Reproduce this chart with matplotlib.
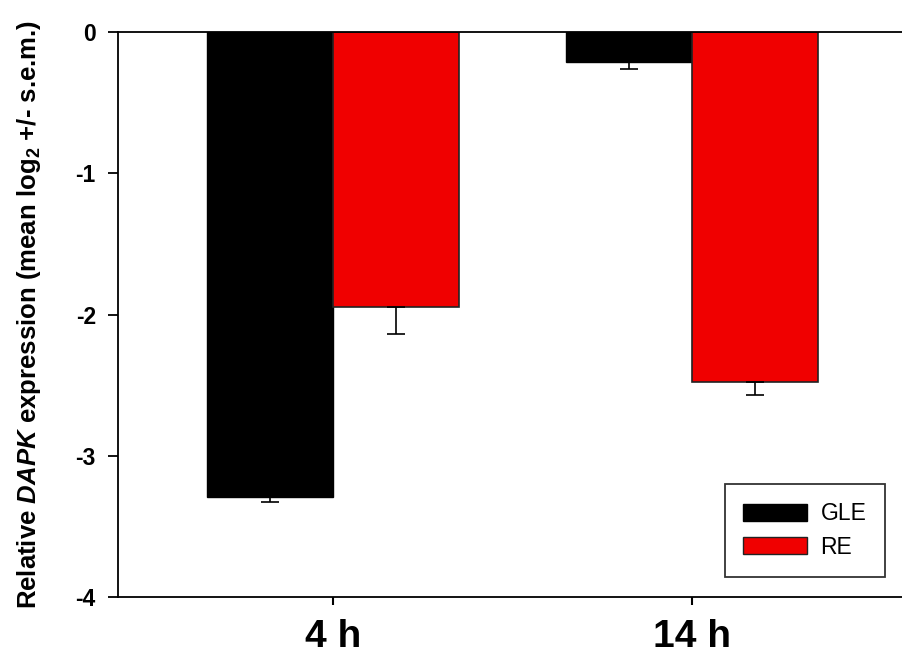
import matplotlib
matplotlib.use("Agg")
import matplotlib.pyplot as plt
import numpy as np
from matplotlib.patches import Patch

categories = ["4 h", "14 h"]
series_names = ["GLE", "RE"]
gle_values = [-3.29, -0.21]
gle_sem = [0.04, 0.05]
re_values = [-1.95, -2.48]
re_sem = [0.19, 0.09]
y_ticks = [0, -1, -2, -3, -4]

plt.rcParams['font.family'] = ['Liberation Sans', 'DejaVu Sans']
plt.rcParams['mathtext.fontset'] = 'custom'
plt.rcParams['mathtext.rm'] = 'Liberation Sans:bold'
plt.rcParams['mathtext.bf'] = 'Liberation Sans:bold'
plt.rcParams['mathtext.sf'] = 'Liberation Sans:bold:italic'
plt.rcParams['mathtext.it'] = 'Liberation Sans:italic'

fig = plt.figure(figsize=(9.02, 6.57), dpi=100)
ax = fig.add_axes([0.1308, 0.0913, 0.8692, 0.86])

x = np.arange(len(categories))
w = 0.351
err_kw = dict(ecolor='black', capsize=6.5, elinewidth=1.2, capthick=1.2)
ax.bar(x - w/2, gle_values, w, color='black', edgecolor='black', linewidth=1,
       yerr=[gle_sem, np.zeros(len(gle_sem))], error_kw=err_kw, label=series_names[0])
ax.bar(x + w/2, re_values, w, color='#f00000', edgecolor='#222222', linewidth=1.2,
       yerr=[re_sem, np.zeros(len(re_sem))], error_kw=err_kw, label=series_names[1])

ax.set_ylim(-4, 0)
ax.set_xlim(-0.599, 1.585)
ax.set_yticks(y_ticks)
ax.set_yticklabels([str(t) for t in y_ticks], fontsize=16.5, fontweight='bold')
ax.set_xticks(x)
ax.set_xticklabels(categories, fontsize=28, fontweight='bold')
ax.tick_params(axis='y', direction='out', length=7, width=1.3, pad=9)
ax.tick_params(axis='x', direction='out', length=6, width=1.5, pad=10)

for s in ['left', 'top', 'bottom']:
    ax.spines[s].set_linewidth(1.3)
ax.spines['right'].set_visible(False)

ax.set_ylabel(r"Relative $\mathsf{DAPK}$ expression (mean log$_\mathbf{2}$ +/- s.e.m.)",
              fontsize=18.5, fontweight='bold')
ax.yaxis.set_label_coords(-0.0957, 0.5)

handles = [Patch(facecolor='black', edgecolor='black'),
           Patch(facecolor='#f00000', edgecolor='#222222')]
leg = ax.legend(handles, series_names, loc='lower right', bbox_to_anchor=(0.978, 0.0354),
                borderaxespad=0, fontsize=16.5, frameon=True, fancybox=False,
                edgecolor='black', handlelength=2.8, handleheight=0.74, borderpad=0.8,
                labelspacing=0.45, handletextpad=0.57)
leg.get_frame().set_linewidth(1.3)

fig.savefig("out.png", dpi=100)
